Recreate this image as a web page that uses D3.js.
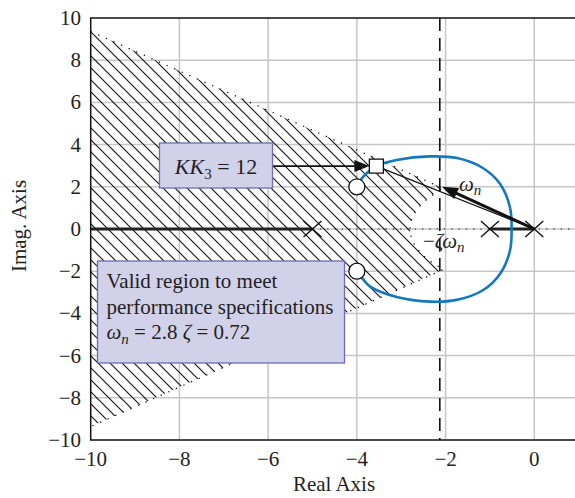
<!DOCTYPE html>
<html><head><meta charset="utf-8">
<script src="https://cdn.jsdelivr.net/npm/d3@7"></script>
<style>
body{margin:0;background:#fff}
svg{display:block}
text{font-family:"Liberation Serif","Times New Roman",serif;fill:#231f20}
</style>
</head><body>
<svg id="c" width="575" height="498"></svg>
<script>
// ---------- data ----------
const xTicks = [-10, -8, -6, -4, -2, 0];
const yTicks = [-10, -8, -6, -4, -2, 0, 2, 4, 6, 8, 10];
const gridX = [-8, -6, -4, -2, 0];
const gridY = [-8, -6, -4, -2, 0, 2, 4, 6, 8];
const polesX = [-5, -1, 0];
const regionZeta = 0.73;      // damping boundary of valid region
const regionWn = 2.8;         // natural-frequency boundary of valid region
const dashLineX = -2.13;      // -zeta*wn line
const locusUpperX = [-4.0, -3.88, -3.56, -3.10, -2.35, -1.74, -1.16, -0.77, -0.55, -0.51];
const locusUpperY = [2.0, 2.42, 2.98, 3.27, 3.44, 3.36, 2.89, 2.13, 1.04, 0];
const locusLowerX = [-0.51, -0.55, -0.77, -1.15, -1.75, -2.35, -3.1, -3.7, -3.89, -4.0];
const locusLowerY = [0, -1.04, -2.12, -2.89, -3.36, -3.44, -3.22, -2.73, -2.3, -2.0];
const openPtsX = [-4, -4];
const openPtsY = [2, -2];
const gainPtX = -3.56, gainPtY = 2.98;
const wnTipX = -2.08, wnTipY = 2.0;
const realLocusFrom = [-10, -1];
const realLocusTo = [-5, 0];

// ---------- setup ----------
const svg = d3.select("#c");
const x = d3.scaleLinear().domain([-10, 0]).range([90.7, 534.3]);
const y = d3.scaleLinear().domain([-10, 10]).range([440, 18]);
const X1 = x(1.1);

const defs = svg.append("defs");
defs.append("clipPath").attr("id", "plotclip").append("rect")
  .attr("x", x(-10)).attr("y", y(10)).attr("width", X1 - x(-10)).attr("height", y(-10) - y(10));
const pat = defs.append("pattern").attr("id", "hatch").attr("patternUnits", "userSpaceOnUse")
  .attr("width", 12).attr("height", 12).attr("patternTransform", "translate(11,0)");
pat.append("path").attr("d", "M-1,-1 L13,13 M-1,11 L1,13 M11,-1 L13,1")
  .attr("stroke", "#111").attr("stroke-width", 1.1);

const plot = svg.append("g").attr("clip-path", "url(#plotclip)");

// grid
plot.selectAll(".gx").data(gridX).join("line")
  .attr("x1", d => x(d)).attr("x2", d => x(d)).attr("y1", y(10)).attr("y2", y(-10))
  .attr("stroke", "#c6c6c6").attr("stroke-width", 1.5);
plot.selectAll(".gy").data(gridY).join("line")
  .attr("x1", x(-10)).attr("x2", X1).attr("y1", d => y(d)).attr("y2", d => y(d))
  .attr("stroke", "#c6c6c6").attr("stroke-width", 1.5);

// valid region (hatched)
const th = Math.acos(regionZeta);
const tn = Math.tan(th);
const regPts = [[-10, 10 * tn]];
const nArc = 40;
for (let i = 0; i <= nArc; i++) {
  const a = th - 2 * th * i / nArc;
  regPts.push([-regionWn * Math.cos(a), regionWn * Math.sin(a)]);
}
regPts.push([-10, -10 * tn]);
const lineXY = d3.line().x(d => x(d[0])).y(d => y(d[1]));
plot.append("path").attr("d", lineXY(regPts) + "Z").attr("fill", "url(#hatch)");
plot.append("path").attr("d", lineXY(regPts)).attr("fill", "none")
  .attr("stroke", "#111").attr("stroke-width", 1.3).attr("stroke-dasharray", "1.3 7");

// real axis dotted
plot.append("line").attr("x1", x(-5)).attr("x2", X1).attr("y1", y(0)).attr("y2", y(0))
  .attr("stroke", "#111").attr("stroke-width", 1.2).attr("stroke-dasharray", "1.3 6");

// dashed -zeta*wn line
plot.append("line").attr("x1", x(dashLineX)).attr("x2", x(dashLineX)).attr("y1", y(10)).attr("y2", y(-10))
  .attr("stroke", "#111").attr("stroke-width", 1.6).attr("stroke-dasharray", "13 7");

// real-axis locus (thick)
plot.selectAll(".rl").data(realLocusFrom).join("line")
  .attr("x1", d => x(d)).attr("x2", (d, i) => x(realLocusTo[i]))
  .attr("y1", y(0)).attr("y2", y(0)).attr("stroke", "#222").attr("stroke-width", 3);

// complex locus
const upper = locusUpperX.map((d, i) => [d, locusUpperY[i]]);
const lower = locusLowerX.map((d, i) => [d, locusLowerY[i]]);
const curve = d3.line().x(d => x(d[0])).y(d => y(d[1])).curve(d3.curveCatmullRom.alpha(0.5));
plot.append("path").attr("d", curve(upper.concat(lower.slice(1)))).attr("fill", "none")
  .attr("stroke", "#1478be").attr("stroke-width", 2.6);

// thin line square -> origin
plot.append("line").attr("x1", x(gainPtX)).attr("y1", y(gainPtY)).attr("x2", x(0)).attr("y2", y(0))
  .attr("stroke", "#111").attr("stroke-width", 1.2);

// wn arrow
function arrowHead(g, tx, ty, fx, fy, len, hw) {
  const dx = tx - fx, dy = ty - fy, L = Math.hypot(dx, dy);
  const ux = dx / L, uy = dy / L;
  const bx = tx - ux * len, by = ty - uy * len;
  g.append("path").attr("d", `M${tx},${ty} L${bx - uy * hw},${by + ux * hw} L${bx + uy * hw},${by - ux * hw} Z`)
    .attr("fill", "#111");
}
const ox = x(0), oy = y(0), tx = x(wnTipX), ty = y(wnTipY);
{
  const L = Math.hypot(tx - ox, ty - oy);
  const ex = tx + (ox - tx) / L * 10, ey = ty + (oy - ty) / L * 10;
  plot.append("line").attr("x1", ox).attr("y1", oy).attr("x2", ex).attr("y2", ey)
    .attr("stroke", "#111").attr("stroke-width", 3);
  arrowHead(plot, tx, ty, ox, oy, 16, 6);
}

// poles (x marks)
const pg = plot.selectAll(".pole").data(polesX).join("g")
  .attr("transform", d => `translate(${x(d)},${y(0)})`);
pg.append("path").attr("d", "M-9,-8 L9,8 M-9,8 L9,-8").attr("stroke", "#111").attr("stroke-width", 1.4).attr("fill", "none");

// open circles
plot.selectAll(".oc").data(openPtsX).join("circle")
  .attr("cx", d => x(d)).attr("cy", (d, i) => y(openPtsY[i])).attr("r", 8)
  .attr("fill", "#fff").attr("stroke", "#111").attr("stroke-width", 1.3);

// arrow from KK3 box to the square
svg.append("line").attr("x1", 272.5).attr("y1", y(gainPtY)).attr("x2", x(gainPtX) - 16).attr("y2", y(gainPtY))
  .attr("stroke", "#111").attr("stroke-width", 1.6);
arrowHead(svg, x(gainPtX) - 7, y(gainPtY), 272.5, y(gainPtY), 15, 6);

// square
svg.append("rect").attr("x", x(gainPtX) - 7).attr("y", y(gainPtY) - 7).attr("width", 14).attr("height", 14)
  .attr("fill", "#fff").attr("stroke", "#111").attr("stroke-width", 1.3);

// frame
svg.append("rect").attr("x", x(-10)).attr("y", y(10)).attr("width", X1 - x(-10)).attr("height", y(-10) - y(10))
  .attr("fill", "none").attr("stroke", "#111").attr("stroke-width", 1.5);

// tick labels
const fmt = d => (d < 0 ? "\u2212" + Math.abs(d) : "" + d);
svg.selectAll(".xt").data(xTicks).join("text")
  .attr("x", d => x(d)).attr("y", 466).attr("text-anchor", "middle").attr("font-size", 21).text(fmt);
svg.selectAll(".yt").data(yTicks).join("text")
  .attr("x", 81).attr("y", d => y(d) + 7).attr("text-anchor", "end").attr("font-size", 21).text(fmt);

// axis titles
svg.append("text").attr("x", 334).attr("y", 491).attr("text-anchor", "middle").attr("font-size", 21).text("Real Axis");
svg.append("text").attr("transform", "translate(26,226) rotate(-90)").attr("text-anchor", "middle")
  .attr("font-size", 21).text("Imag. Axis");

// annotations: wn and -zeta wn
const t1 = svg.append("text").attr("x", 459).attr("y", 191).attr("font-size", 21);
t1.append("tspan").attr("font-style", "italic").text("\u03c9");
t1.append("tspan").attr("font-style", "italic").attr("font-size", 15).attr("dy", 4).text("n");
const t2 = svg.append("text").attr("x", 423).attr("y", 248).attr("font-size", 21);
t2.append("tspan").text("\u2212");
t2.append("tspan").attr("font-style", "italic").text("\u03b6\u03c9");
t2.append("tspan").attr("font-style", "italic").attr("font-size", 15).attr("dy", 4).text("n");

// KK3 box
svg.append("rect").attr("x", 159.5).attr("y", 143).attr("width", 113).attr("height", 45)
  .attr("fill", "#d2d1ea").attr("stroke", "#6a6ab8").attr("stroke-width", 1.3);
const kt = svg.append("text").attr("x", 216).attr("y", 174).attr("text-anchor", "middle").attr("font-size", 22);
kt.append("tspan").attr("font-style", "italic").text("KK");
kt.append("tspan").attr("font-size", 15).attr("dy", 5).text("3");
kt.append("tspan").attr("dy", -5).text(" = 12");

// valid-region box
svg.append("rect").attr("x", 97.5).attr("y", 261).attr("width", 247).attr("height", 102)
  .attr("fill", "#d2d1ea").attr("stroke", "#6a6ab8").attr("stroke-width", 1.3);
const vlines = ["Valid region to meet", "performance specifications"];
svg.selectAll(".vl").data(vlines).join("text")
  .attr("x", 106.5).attr("y", (d, i) => 288 + i * 25.5).attr("font-size", 21).text(d => d);
const vt = svg.append("text").attr("x", 106.5).attr("y", 339).attr("font-size", 21);
vt.append("tspan").attr("font-style", "italic").text("\u03c9");
vt.append("tspan").attr("font-style", "italic").attr("font-size", 15).attr("dy", 5).text("n");
vt.append("tspan").attr("dy", -5).text(" = 2.8 ");
vt.append("tspan").attr("font-style", "italic").text("\u03b6");
vt.append("tspan").text(" = 0.72");
</script>
</body></html>
